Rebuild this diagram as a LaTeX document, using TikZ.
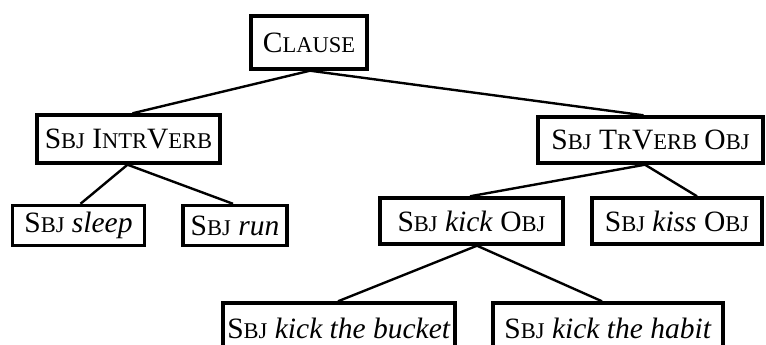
\documentclass[tikz,border=0pt]{standalone}
\usepackage{fontspec}
\setmainfont{Liberation Serif}
\newcommand\mysc[1]{{\fontsize{22.5}{24}\selectfont #1}}
\tikzset{
  box/.style={draw, line width=3.4pt, inner sep=0pt, font=\fontsize{29.5}{32}\selectfont},
  edge/.style={line width=2.4pt}
}
\begin{document}
\begin{tikzpicture}[x=1pt,y=-1pt]
\useasboundingbox[fill=white] (0,0) rectangle (766,345);
\begin{scope}
\clip (0,0) rectangle (766,345);
\node[box, minimum width=116pt, minimum height=53pt] (clause) at (309,42.5) {C\mysc{LAUSE}};
\node[box, minimum width=183pt, minimum height=48pt] (intr) at (128.5,139) {S\mysc{BJ} I\mysc{NTR}V\mysc{ERB}};
\node[box, minimum width=225pt, minimum height=46pt] (tr) at (650.5,140) {S\mysc{BJ} T\mysc{R}V\mysc{ERB} O\mysc{BJ}};
\node[box, minimum width=132pt, minimum height=40pt] (sleep) at (78.5,225.5) {S\mysc{BJ} \textit{sleep}};
\node[box, minimum width=104pt, minimum height=40pt] (run) at (235,225.5) {S\mysc{BJ} \textit{run}};
\node[box, minimum width=183pt, minimum height=46pt] (kick) at (471.5,221) {S\mysc{BJ} \textit{kick} O\mysc{BJ}};
\node[box, minimum width=170pt, minimum height=46pt] (kiss) at (677,221) {S\mysc{BJ} \textit{kiss} O\mysc{BJ}};
\node[box, minimum width=232pt, minimum height=50pt] (bucket) at (339,328) {S\mysc{BJ} \textit{kick the bucket}};
\node[box, minimum width=230pt, minimum height=50pt] (habit) at (608,328) {S\mysc{BJ} \textit{kick the habit}};
\draw[edge] ([xshift=1pt]clause.south) -- ([xshift=4pt]intr.north);
\draw[edge] ([xshift=1pt]clause.south) -- ([xshift=-7pt]tr.north);
\draw[edge] ([xshift=-1pt]intr.south) -- ([xshift=2pt]sleep.north);
\draw[edge] ([xshift=-1pt]intr.south) -- ([xshift=-2pt]run.north);
\draw[edge] ([xshift=-5.5pt]tr.south) -- ([xshift=-1.5pt]kick.north);
\draw[edge] ([xshift=-5.5pt]tr.south) -- ([xshift=20pt]kiss.north);
\draw[edge] ([xshift=5.5pt]kick.south) -- ([xshift=-1pt]bucket.north);
\draw[edge] ([xshift=5.5pt]kick.south) -- ([xshift=-6pt]habit.north);
\end{scope}
\end{tikzpicture}
\end{document}
